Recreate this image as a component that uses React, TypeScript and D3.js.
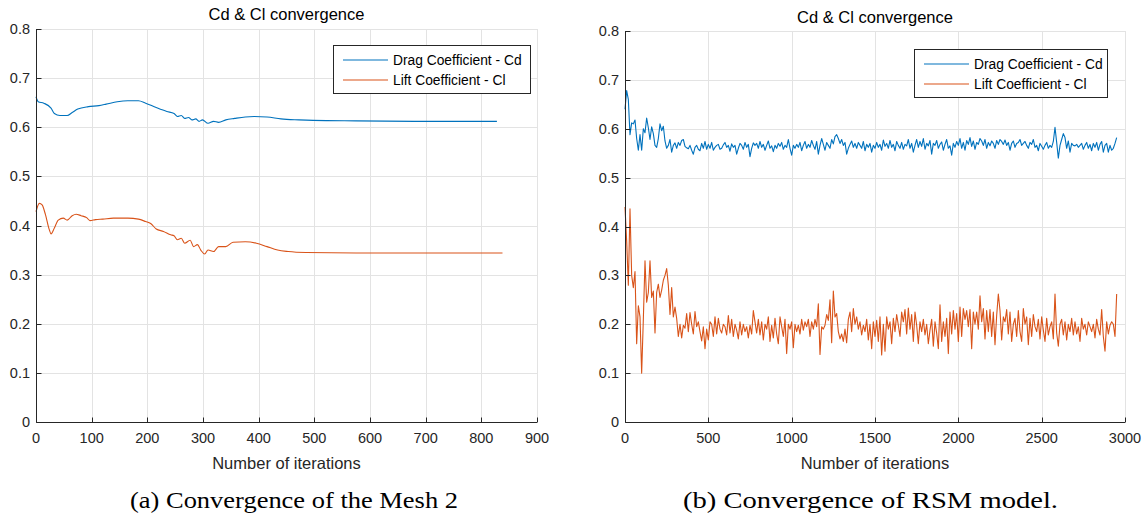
import React from 'react';
import * as d3 from 'd3';

// ---------- data ----------
const yTickValues = [0, 0.1, 0.2, 0.3, 0.4, 0.5, 0.6, 0.7, 0.8];
const meshXTicks = [0, 100, 200, 300, 400, 500, 600, 700, 800, 900];
const rsmXTicks = [0, 500, 1000, 1500, 2000, 2500, 3000];
const legendLabels = ['Drag Coefficient - Cd', 'Lift Coefficient - Cl'];

const meshCdIter = [0,4,14,27,33,43,56,65,75,94,113,126,146,165,184,197,216,235,248,254,261,267,274,280,287,293,299,309,319,328,341,357,376,392,415,440,472,498,575,700,828];
const meshCdVal = [0.662,0.652,0.649,0.639,0.628,0.624,0.624,0.630,0.637,0.642,0.644,0.647,0.652,0.654,0.654,0.649,0.640,0.632,0.628,0.622,0.624,0.618,0.620,0.615,0.617,0.612,0.615,0.608,0.612,0.610,0.615,0.618,0.621,0.622,0.621,0.617,0.615,0.614,0.613,0.612,0.612];

const meshClIter = [0,6,11,17,24,27,33,40,49,56,65,72,81,91,97,107,120,139,165,184,197,206,216,229,242,248,254,261,267,277,283,290,296,303,309,319,328,341,354,376,396,415,434,453,485,575,700,838];
const meshClVal = [0.428,0.445,0.442,0.422,0.391,0.383,0.395,0.411,0.415,0.411,0.420,0.423,0.420,0.416,0.410,0.412,0.413,0.415,0.415,0.413,0.408,0.404,0.393,0.388,0.381,0.379,0.371,0.374,0.364,0.370,0.357,0.361,0.350,0.342,0.350,0.347,0.357,0.357,0.366,0.367,0.364,0.357,0.350,0.347,0.345,0.344,0.344,0.344];

// RSM model: one sample every 10 iterations (0 .. 2950)
const rsmStep = 10;
const rsmCd = [
  0.640,0.678,0.660,0.588,0.612,0.610,0.618,0.580,0.556,0.588,
  0.556,0.600,0.592,0.622,0.602,0.578,0.604,0.590,0.566,0.562,
  0.580,0.610,0.596,0.605,0.575,0.560,0.566,0.578,0.552,0.566,
  0.571,0.560,0.572,0.566,0.576,0.578,0.564,0.561,0.559,0.566,
  0.556,0.548,0.562,0.566,0.558,0.555,0.570,0.560,0.574,0.558,
  0.568,0.560,0.572,0.556,0.562,0.566,0.568,0.558,0.560,0.567,
  0.572,0.562,0.566,0.554,0.569,0.562,0.566,0.548,0.560,0.570,
  0.566,0.558,0.572,0.562,0.568,0.543,0.560,0.571,0.566,0.570,
  0.560,0.574,0.562,0.568,0.556,0.566,0.575,0.560,0.565,0.553,
  0.566,0.560,0.570,0.564,0.572,0.558,0.566,0.562,0.578,0.560,
  0.546,0.566,0.560,0.568,0.562,0.572,0.555,0.566,0.574,0.560,
  0.568,0.562,0.576,0.566,0.558,0.574,0.548,0.566,0.580,0.568,
  0.556,0.572,0.566,0.560,0.578,0.569,0.584,0.588,0.580,0.570,
  0.578,0.566,0.572,0.548,0.560,0.568,0.575,0.562,0.570,0.560,
  0.572,0.566,0.560,0.574,0.555,0.568,0.562,0.570,0.552,0.566,
  0.560,0.572,0.562,0.568,0.556,0.577,0.564,0.570,0.560,0.576,
  0.562,0.568,0.555,0.574,0.566,0.560,0.572,0.558,0.568,0.565,
  0.578,0.560,0.570,0.552,0.566,0.578,0.562,0.574,0.564,0.580,
  0.558,0.570,0.565,0.576,0.548,0.570,0.566,0.576,0.560,0.568,
  0.573,0.556,0.568,0.578,0.560,0.565,0.546,0.570,0.562,0.574,
  0.566,0.580,0.560,0.572,0.556,0.576,0.568,0.582,0.564,0.575,
  0.558,0.572,0.568,0.580,0.575,0.566,0.578,0.560,0.572,0.565,
  0.575,0.570,0.560,0.576,0.568,0.578,0.574,0.568,0.577,0.566,
  0.572,0.556,0.570,0.575,0.562,0.570,0.572,0.578,0.566,0.570,
  0.574,0.566,0.560,0.572,0.568,0.578,0.562,0.566,0.555,0.570,
  0.564,0.558,0.566,0.572,0.560,0.566,0.562,0.574,0.603,0.572,
  0.540,0.566,0.578,0.590,0.582,0.560,0.575,0.552,0.570,0.566,
  0.565,0.568,0.562,0.566,0.570,0.558,0.566,0.572,0.560,0.568,
  0.555,0.570,0.562,0.572,0.556,0.568,0.574,0.552,0.566,0.570,
  0.552,0.566,0.556,0.560,0.570,0.582,
];
const rsmCl = [
  0.440,0.370,0.280,0.436,0.300,0.275,0.308,0.160,0.238,0.215,
  0.100,0.210,0.330,0.245,0.265,0.330,0.255,0.268,0.182,0.265,
  0.282,0.255,0.270,0.290,0.300,0.314,0.280,0.220,0.275,0.215,
  0.235,0.212,0.175,0.200,0.172,0.198,0.192,0.222,0.185,0.224,
  0.200,0.180,0.226,0.195,0.205,0.185,0.166,0.195,0.150,0.190,
  0.168,0.205,0.200,0.175,0.215,0.180,0.212,0.190,0.182,0.200,
  0.195,0.178,0.218,0.182,0.210,0.175,0.200,0.188,0.170,0.205,
  0.178,0.200,0.185,0.195,0.172,0.198,0.180,0.228,0.205,0.182,
  0.210,0.178,0.205,0.168,0.200,0.190,0.215,0.165,0.198,0.172,
  0.212,0.180,0.160,0.215,0.195,0.175,0.210,0.140,0.200,0.190,
  0.205,0.152,0.200,0.185,0.198,0.180,0.210,0.188,0.205,0.195,
  0.210,0.175,0.205,0.190,0.210,0.195,0.242,0.138,0.195,0.190,
  0.198,0.220,0.208,0.250,0.162,0.268,0.215,0.222,0.185,0.170,
  0.180,0.165,0.190,0.162,0.210,0.225,0.185,0.232,0.200,0.215,
  0.190,0.205,0.178,0.198,0.185,0.210,0.168,0.200,0.150,0.205,
  0.175,0.208,0.165,0.215,0.137,0.200,0.145,0.215,0.190,0.205,
  0.160,0.212,0.185,0.220,0.198,0.175,0.225,0.205,0.230,0.180,
  0.233,0.190,0.220,0.165,0.225,0.198,0.160,0.205,0.185,0.210,
  0.178,0.200,0.160,0.188,0.210,0.155,0.205,0.182,0.150,0.240,
  0.165,0.205,0.175,0.212,0.140,0.225,0.180,0.228,0.190,0.222,
  0.165,0.235,0.175,0.232,0.210,0.228,0.195,0.230,0.150,0.225,
  0.200,0.225,0.190,0.258,0.205,0.232,0.170,0.228,0.185,0.230,
  0.175,0.225,0.158,0.218,0.262,0.228,0.168,0.215,0.205,0.230,
  0.180,0.225,0.165,0.200,0.212,0.175,0.228,0.185,0.165,0.232,
  0.200,0.215,0.158,0.212,0.175,0.220,0.195,0.185,0.210,0.170,
  0.215,0.188,0.165,0.212,0.178,0.195,0.205,0.170,0.262,0.182,
  0.155,0.200,0.210,0.178,0.205,0.168,0.200,0.185,0.212,0.178,
  0.205,0.180,0.195,0.165,0.212,0.190,0.200,0.178,0.205,0.195,
  0.185,0.200,0.172,0.210,0.190,0.178,0.230,0.175,0.145,0.205,
  0.180,0.198,0.205,0.200,0.175,0.262,
];

// ---------- styles ----------
const CD_COLOR = '#0072BD';
const CL_COLOR = '#D95319';
const AXIS_COLOR = '#262626';
const GRID_COLOR = '#e3e3e3';
const SANS = '"Liberation Sans", Arial, Helvetica, sans-serif';
const SERIF = '"Liberation Serif", "DejaVu Serif", serif';

type Pt = [number, number];

interface PanelProps {
  left: number; right: number; top: number; bottom: number;
  xMax: number; xTicks: number[];
  cd: Pt[]; cl: Pt[];
  smooth: boolean;
  titleY: number;
  caption: string; captionX: number; captionLen: number;
  legend: { x: number; y: number; w: number; h: number };
}

function Panel(p: PanelProps) {
  const x = d3.scaleLinear().domain([0, p.xMax]).range([p.left, p.right]);
  const y = d3.scaleLinear().domain([0, 0.8]).range([p.bottom, p.top]);
  const line = d3.line<Pt>().x(d => x(d[0])).y(d => y(d[1]));
  if (p.smooth) line.curve(d3.curveMonotoneX);
  const cx = (p.left + p.right) / 2;
  const crisp = (v: number) => Math.round(v) + 0.5;
  const fmtY = (v: number) => (v === 0 ? '0' : d3.format('.1f')(v));
  return (
    <g>
      {/* grid */}
      {p.xTicks.map(t => (
        <line key={'gx' + t} x1={crisp(x(t))} x2={crisp(x(t))} y1={p.top} y2={p.bottom} stroke={GRID_COLOR} strokeWidth={1} />
      ))}
      {yTickValues.map(t => (
        <line key={'gy' + t} x1={p.left} x2={p.right} y1={crisp(y(t))} y2={crisp(y(t))} stroke={GRID_COLOR} strokeWidth={1} />
      ))}
      {/* data */}
      <path d={line(p.cd) || ''} fill="none" stroke={CD_COLOR} strokeWidth={1.1} strokeLinejoin="round" />
      <path d={line(p.cl) || ''} fill="none" stroke={CL_COLOR} strokeWidth={1.1} strokeLinejoin="round" />
      {/* axes */}
      <line x1={crisp(p.left)} x2={crisp(p.left)} y1={p.top} y2={crisp(p.bottom)} stroke={AXIS_COLOR} strokeWidth={1} />
      <line x1={crisp(p.left)} x2={p.right} y1={crisp(p.bottom)} y2={crisp(p.bottom)} stroke={AXIS_COLOR} strokeWidth={1} />
      {yTickValues.map(t => (
        <g key={'ty' + t}>
          <line x1={crisp(p.left)} x2={crisp(p.left) + 5} y1={crisp(y(t))} y2={crisp(y(t))} stroke={AXIS_COLOR} strokeWidth={1} />
          <text x={p.left - 6} y={y(t)} dy="0.35em" textAnchor="end" fontFamily={SANS} fontSize={14.5} fill={AXIS_COLOR}>{fmtY(t)}</text>
        </g>
      ))}
      {p.xTicks.map(t => (
        <g key={'tx' + t}>
          <line x1={crisp(x(t))} x2={crisp(x(t))} y1={crisp(p.bottom)} y2={crisp(p.bottom) - 5} stroke={AXIS_COLOR} strokeWidth={1} />
          <text x={x(t)} y={p.bottom + 21} textAnchor="middle" fontFamily={SANS} fontSize={14.5} fill={AXIS_COLOR}>{t}</text>
        </g>
      ))}
      {/* labels */}
      <text x={cx} y={p.titleY} textAnchor="middle" fontFamily={SANS} fontSize={16.5} fill="#000">Cd &amp; Cl convergence</text>
      <text x={cx} y={p.bottom + 47} textAnchor="middle" fontFamily={SANS} fontSize={16.5} fill={AXIS_COLOR}>Number of iterations</text>
      {/* legend */}
      <rect x={p.legend.x + 0.5} y={p.legend.y + 0.5} width={p.legend.w} height={p.legend.h} fill="#fff" stroke={AXIS_COLOR} strokeWidth={1} />
      {legendLabels.map((lab, i) => {
        const ly = p.legend.y + 15 + i * 20;
        return (
          <g key={lab}>
            <line x1={p.legend.x + 10} x2={p.legend.x + 55} y1={ly} y2={ly} stroke={i === 0 ? CD_COLOR : CL_COLOR} strokeWidth={1.1} />
            <text x={p.legend.x + 60} y={ly} dy="0.35em" fontFamily={SANS} fontSize={13.8} fill="#000">{lab}</text>
          </g>
        );
      })}
      {/* caption */}
      <text x={p.captionX} y={508} fontFamily={SERIF} fontSize={23} fill="#000" textLength={p.captionLen} lengthAdjust="spacingAndGlyphs">{p.caption}</text>
    </g>
  );
}

export default function App() {
  const meshCd: Pt[] = meshCdIter.map((it, i) => [it, meshCdVal[i]]);
  const meshCl: Pt[] = meshClIter.map((it, i) => [it, meshClVal[i]]);
  const rCd: Pt[] = rsmCd.map((v, i) => [i * rsmStep, v]);
  const rCl: Pt[] = rsmCl.map((v, i) => [i * rsmStep, v]);
  return (
    <svg width={1148} height={517} style={{ position: 'absolute', left: 0, top: 0, background: '#fff' }}>
      <rect x={0} y={0} width={1148} height={517} fill="#fff" />
      <Panel left={36} right={537} top={29} bottom={422} xMax={900} xTicks={meshXTicks}
        cd={meshCd} cl={meshCl} smooth={true} titleY={20}
        caption="(a) Convergence of the Mesh 2" captionX={130} captionLen={328}
        legend={{ x: 333, y: 45, w: 197, h: 48 }} />
      <Panel left={625} right={1125} top={31} bottom={422} xMax={3000} xTicks={rsmXTicks}
        cd={rCd} cl={rCl} smooth={false} titleY={23}
        caption="(b) Convergence of RSM model." captionX={683} captionLen={375}
        legend={{ x: 914, y: 49, w: 193, h: 48 }} />
    </svg>
  );
}
